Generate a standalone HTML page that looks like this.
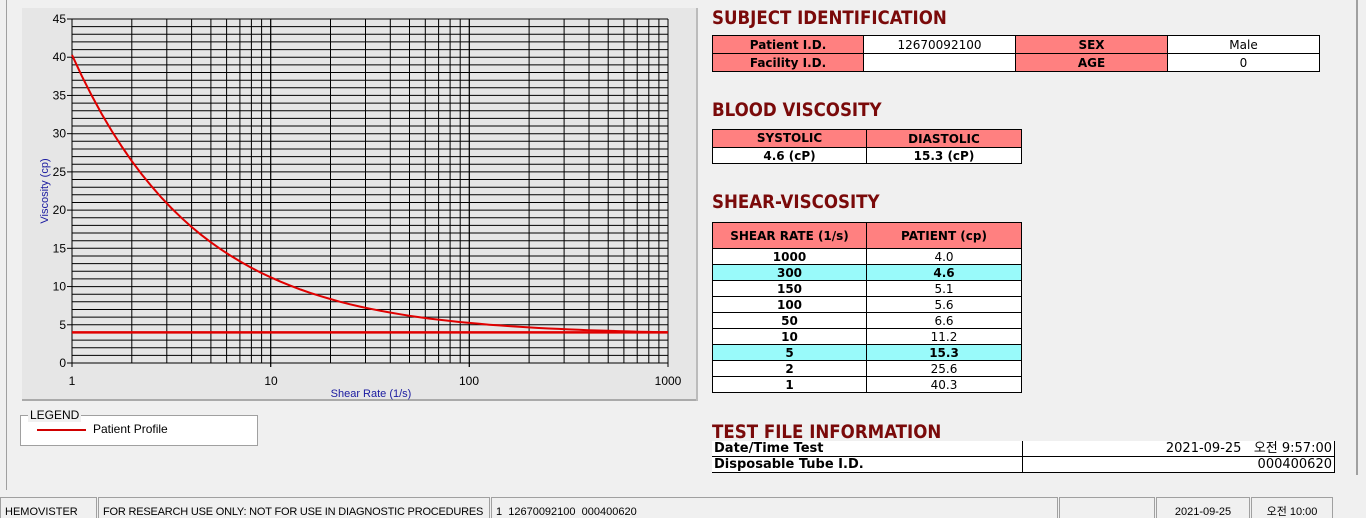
<!DOCTYPE html>
<html><head><meta charset="utf-8"><style>
body{margin:0;width:1366px;height:518px;background:#f0f0f0;position:relative;overflow:hidden;font-family:"Liberation Sans","Noto Sans CJK KR",sans-serif;}
.a{position:absolute;}
.h{position:absolute;left:712px;font:bold 18.5px "DejaVu Sans Condensed","Liberation Sans",sans-serif;color:#7a0a0a;}
table{position:absolute;border-collapse:collapse;font:12px "DejaVu Sans","Liberation Sans",sans-serif;}
td{border:1px solid #000;padding:0;text-align:center;height:15px;line-height:14px}
.p{background:#ff8080;font-weight:bold;}
.w{background:#fff}
.c{background:#99fafa;font-weight:bold}
.b{font-weight:bold}
.sb{position:absolute;top:497px;height:21px;border:1px solid #a0a0a0;border-bottom:none;font-size:11px;line-height:28px;padding-left:4px;box-sizing:border-box;color:#000;overflow:hidden;white-space:nowrap}
</style></head><body>
<div class="a" style="left:6px;top:0;width:1px;height:490px;background:#a0a0a0"></div>
<div class="a" style="left:1356px;top:0;width:2px;height:475px;background:#a0a0a0"></div>
<svg class="a" style="left:0;top:0" width="700" height="405">
<rect x="22" y="8" width="676" height="393" fill="#e6e6e6"/>
<line x1="22" y1="400" x2="698" y2="400" stroke="#aaa" stroke-width="2"/>
<line x1="697" y1="8" x2="697" y2="401" stroke="#bbb" stroke-width="2"/>
<g id="g" stroke="#000" stroke-width="1"></g>
<g font-family="Liberation Sans" font-size="12" fill="#000" text-anchor="end" id="yl"></g>
<g font-family="Liberation Sans" font-size="12" fill="#000" text-anchor="middle">
<text x="72" y="385">1</text><text x="271" y="385">10</text><text x="469" y="385">100</text><text x="668" y="385">1000</text></g>
<text x="371" y="397" font-family="Liberation Sans" font-size="11" fill="#1a1aa0" text-anchor="middle">Shear Rate (1/s)</text>
<text transform="translate(48,191) rotate(-90)" font-family="Liberation Sans" font-size="11" fill="#1a1aa0" text-anchor="middle">Viscosity (cp)</text>
<line x1="72" y1="332.4" x2="668" y2="332.4" stroke="#e00000" stroke-width="2.5"/>
<path id="cv" fill="none" stroke="#e00000" stroke-width="2"/>
</svg>
<script>
var g=document.getElementById('g'),s='';
for(var i=0;i<=45;i++){var y=363-i*344/45;s+='<line x1="72" x2="668" y1="'+y.toFixed(1)+'" y2="'+y.toFixed(1)+'"/>';}
for(var d=0;d<3;d++)for(var k=1;k<=10;k++){var x=72+(d+Math.log10(k))*198.67;s+='<line y1="19" y2="'+(k==1||k==10?367:363)+'" x1="'+x.toFixed(1)+'" x2="'+x.toFixed(1)+'"/>';}
s+='<line x1="68" x2="72" y1="363" y2="363"/>';
g.innerHTML=s;
var yl='';for(var v=0;v<=45;v+=5){var y=363-v*344/45;yl+='<text x="66" y="'+(y+4).toFixed(1)+'">'+v+'</text><line x1="67" x2="72" y1="'+y+'" y2="'+y+'" stroke="#000"/>';}
document.getElementById('yl').innerHTML=yl;
var pts=[];for(var t=0;t<=3.0001;t+=0.05){var r=Math.pow(10,t);var v=3.7+36.6*Math.pow(r,-0.688); pts.push([72+t*198.67,363-v*344/45]);}
document.getElementById('cv').setAttribute('d','M'+pts.map(function(p){return p[0].toFixed(1)+','+p[1].toFixed(1)}).join(' L'));
</script>
<div class="a" style="left:20px;top:415px;width:236px;height:29px;background:#fff;border:1px solid #a0a0a0"></div>
<div class="a" style="left:28px;top:408px;background:#f0f0f0;font-size:12px;padding:0 2px">LEGEND</div>
<div class="a" style="left:37px;top:429px;width:49px;height:2px;background:#d00000"></div>
<div class="a" style="left:93px;top:422px;font-size:12px">Patient Profile</div>

<div class="h" style="top:8px">SUBJECT IDENTIFICATION</div>
<table style="left:712px;top:35px;width:608px">
<tr><td class="p" style="width:150px;height:17px">Patient I.D.</td><td class="w" style="width:151px">12670092100</td><td class="p" style="width:151px">SEX</td><td class="w">Male</td></tr>
<tr><td class="p" style="height:17px">Facility I.D.</td><td class="w"></td><td class="p">AGE</td><td class="w">0</td></tr></table>
<div class="h" style="top:100px">BLOOD VISCOSITY</div>
<table style="left:712px;top:129px;width:310px">
<tr><td class="p" style="width:153px;line-height:17px">SYSTOLIC</td><td class="p">DIASTOLIC</td></tr>
<tr><td class="w b">4.6 (cP)</td><td class="w b">15.3 (cP)</td></tr></table>
<div class="h" style="top:192px">SHEAR-VISCOSITY</div>
<table style="left:712px;top:222px;width:310px">
<tr><td class="p" style="width:153px;height:25px">SHEAR RATE (1/s)</td><td class="p">PATIENT (cp)</td></tr>
<tr><td class="w b">1000</td><td class="w">4.0</td></tr>
<tr><td class="c">300</td><td class="c">4.6</td></tr>
<tr><td class="w b">150</td><td class="w">5.1</td></tr>
<tr><td class="w b">100</td><td class="w">5.6</td></tr>
<tr><td class="w b">50</td><td class="w">6.6</td></tr>
<tr><td class="w b">10</td><td class="w">11.2</td></tr>
<tr><td class="c">5</td><td class="c">15.3</td></tr>
<tr><td class="w b">2</td><td class="w">25.6</td></tr>
<tr><td class="w b">1</td><td class="w">40.3</td></tr></table>
<div class="h" style="top:422px">TEST FILE INFORMATION</div>
<table style="left:712px;top:441px;width:623px;font-size:13px">
<tr><td class="w b" style="width:308px;text-align:left;padding-left:2px;border-left:none;border-top:none">Date/Time Test</td><td class="w" style="text-align:right;padding-right:2px;border-top:none">2021-09-25&nbsp;&nbsp; 오전 9:57:00</td></tr>
<tr><td class="w b" style="text-align:left;padding-left:2px;border-left:none">Disposable Tube I.D.</td><td class="w" style="text-align:right;padding-right:2px">000400620</td></tr></table>

<div class="sb" style="left:0;width:97px">HEMOVISTER</div>
<div class="sb" style="left:98px;width:392px;letter-spacing:-0.2px">FOR RESEARCH USE ONLY: NOT FOR USE IN DIAGNOSTIC PROCEDURES</div>
<div class="sb" style="left:491px;width:567px">1&nbsp; 12670092100&nbsp; 000400620</div>
<div class="sb" style="left:1059px;width:96px"></div>
<div class="sb" style="left:1156px;width:94px;text-align:center;padding:0">2021-09-25</div>
<div class="sb" style="left:1251px;width:82px;text-align:center;padding:0">오전 10:00</div>
</body></html>
